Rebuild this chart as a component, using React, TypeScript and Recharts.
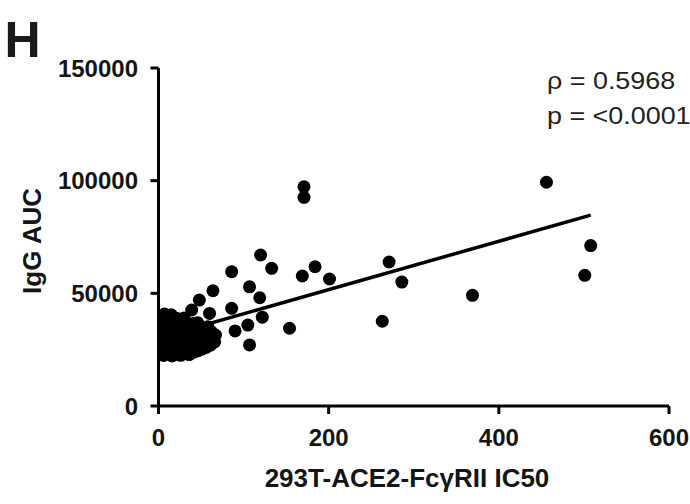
import React from 'react';
import { ScatterChart, Scatter, XAxis, YAxis } from 'recharts';

const xTicks = [0, 200, 400, 600];
const yTicks = [0, 50000, 100000, 150000];

const panelLetter = 'H';
const xTitle = '293T-ACE2-FcγRII IC50';
const yTitle = 'IgG AUC';
const statLines = ['ρ = 0.5968', 'p = <0.0001'];

// dense cluster near the origin [IC50, AUC]
const clusterPoints: [number, number][] = [
  [1, 23500], [2, 26500], [1, 29800], [3, 33000], [2, 36200], [1, 39500],
  [6, 22400], [5, 25300], [7, 28500], [6, 31600], [8, 34800], [5, 38000], [7, 40800],
  [11, 23200], [10, 26400], [12, 29500], [13, 32700], [11, 35900], [12, 39000],
  [16, 22200], [15, 25100], [17, 28200], [18, 31300], [16, 34500], [17, 37700], [15, 40500],
  [21, 23000], [20, 26200], [22, 29300], [23, 32400], [21, 35600], [22, 38800],
  [26, 22500], [25, 25600], [27, 28800], [28, 31900], [26, 35000], [27, 38000],
  [31, 23300], [30, 26500], [32, 29600], [33, 32800], [31, 36000], [30, 39000],
  [36, 22800], [35, 25800], [37, 29000], [38, 32200], [36, 35300],
  [41, 23800], [40, 27000], [42, 30100], [43, 33300], [41, 36600],
  [46, 24500], [45, 27800], [47, 31000], [48, 34000], [46, 37000],
  [51, 25200], [50, 28400], [52, 31600], [53, 34600],
  [56, 26000], [55, 29200], [57, 32300], [58, 35200],
  [61, 27000], [60, 30100], [62, 33000],
  [66, 28500], [67, 31500],
];

// scattered points away from the cluster [IC50, AUC]
const spreadPoints: [number, number][] = [
  [456, 99300], [508, 71200], [501, 58000], [369, 49100], [271, 63900], [286, 55000], [263, 37600],
  [171, 97300], [171, 92600], [120, 67000], [133, 61100], [86, 59600], [169, 57700], [184, 61800],
  [201, 56350], [64, 51150], [107, 52900], [119, 48050], [48, 47000], [86, 43350], [60, 41100],
  [39, 42600], [122, 39400], [105, 35900], [90, 33300], [154, 34500], [107, 27100],
];

// linear fit endpoints
const fitX = [0, 508];
const fitY = [30200, 84700];

const points = [...clusterPoints, ...spreadPoints].map(([x, y]) => ({ x, y }));
const fitData = fitX.map((x, i) => ({ x, y: fitY[i] }));

const FONT = '"Liberation Sans", Arial, Helvetica, sans-serif';

const Dot = (props: any) => <circle cx={props.cx} cy={props.cy} r={6.5} fill="#000" />;
const NoDot = () => <g />;

export default function App() {
  const tickStyle = { fill: '#151515', fontSize: 24, fontWeight: 700, fontFamily: FONT };
  return (
    <div style={{ position: 'relative', width: 690, height: 504, background: '#fff' }}>
      <style>{`body{margin:0;background:#fff}`}</style>
      <ScatterChart width={690} height={504} margin={{ top: 68, right: 21, bottom: 0, left: 0 }}>
        <XAxis
          type="number"
          dataKey="x"
          domain={[0, 600]}
          ticks={xTicks}
          height={98}
          tickSize={8}
          tickMargin={15}
          axisLine={{ stroke: '#000', strokeWidth: 3 }}
          tickLine={{ stroke: '#000', strokeWidth: 3 }}
          tick={tickStyle}
          allowDataOverflow
        />
        <YAxis
          type="number"
          dataKey="y"
          domain={[0, 150000]}
          ticks={yTicks}
          width={158.5}
          tickSize={8}
          tickMargin={12.5}
          axisLine={{ stroke: '#000', strokeWidth: 3 }}
          tickLine={{ stroke: '#000', strokeWidth: 3 }}
          tick={tickStyle}
          allowDataOverflow
        />
        <Scatter data={fitData} line={{ stroke: '#000', strokeWidth: 3.5 }} shape={NoDot} isAnimationActive={false} />
        <Scatter data={points} shape={Dot} isAnimationActive={false} />
      </ScatterChart>
      <svg width={690} height={504} style={{ position: 'absolute', left: 0, top: 0, pointerEvents: 'none' }}>
        <text x={4.5} y={57} fontSize={50} fontWeight={700} fontFamily={FONT} fill="#1a1a1a">{panelLetter}</text>
        <text x={407} y={487} textAnchor="middle" fontSize={26} fontWeight={700} fontFamily={FONT} fill="#151515">{xTitle}</text>
        <text transform="translate(41,241) rotate(-90)" textAnchor="middle" fontSize={26} fontWeight={700} fontFamily={FONT} fill="#151515">{yTitle}</text>
        <text transform="translate(547,89) scale(1.17,1)" fontSize={23} fontFamily={FONT} fill="#222">{statLines[0]}</text>
        <text transform="translate(547,124) scale(1.17,1)" fontSize={23} fontFamily={FONT} fill="#222">{statLines[1]}</text>
      </svg>
    </div>
  );
}
